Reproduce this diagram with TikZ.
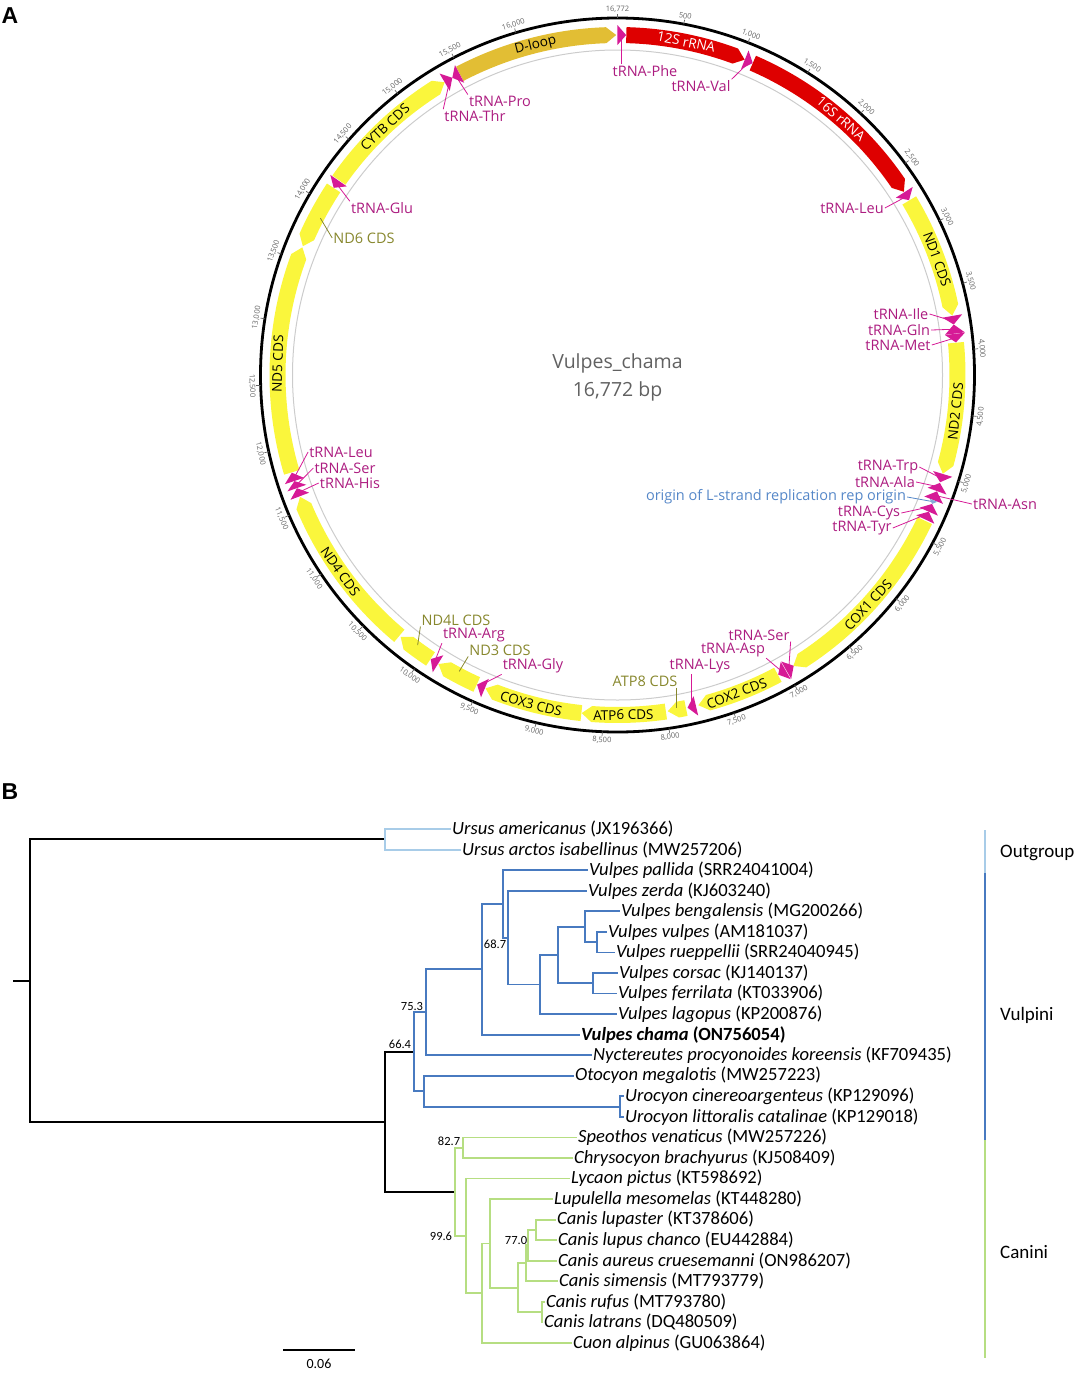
\documentclass[tikz,border=0pt]{standalone}
\usepackage{fontspec}
\setmainfont{Open Sans}
\newfontfamily\treefont{Carlito}
\newfontfamily\panelfont{Liberation Sans}

\definecolor{cdsyellow}{RGB}{250,246,60}
\definecolor{dloopgold}{RGB}{226,190,52}
\definecolor{rrnared}{RGB}{222,0,0}
\definecolor{trnamag}{RGB}{214,26,150}
\definecolor{trnatext}{RGB}{172,28,128}
\definecolor{cdsolive}{RGB}{135,135,45}
\definecolor{oriblue}{RGB}{85,135,200}
\definecolor{ticktext}{RGB}{100,100,100}
\definecolor{ogblue}{RGB}{168,204,232}
\definecolor{vulblue}{RGB}{72,122,192}
\definecolor{cangreen}{RGB}{182,222,130}

\pgfkeys{/pgf/number format/.cd,1000 sep={,},assume math mode=true}

% bp -> angle (0 bp at top, clockwise); shifted so no number tops 16383
\newcommand\mang[1]{(-81.7144-0.0214643*(\the\numexpr#1-8000\relax))}
% rotation of text along the circle
\newcommand\tanrot[1]{\pgfmathsetmacro\lr{(#1)<-180 ? (#1)+270 : ((#1)<0 ? (#1)+90 : (#1)-90)}}
% feature arrow: start, end, colour, direction
\newcommand\gene[4]{%
  \pgfmathsetmacro\ga{\mang{#1}}%
  \pgfmathsetmacro\gb{\mang{#2}}%
  \ifnum#4=1
    \pgfmathsetmacro\gh{\gb+1.7}%
    \fill[#3] (\ga:348) arc[start angle=\ga,end angle=\gh,radius=348pt]
      -- (\gb:340) -- (\gh:332) arc[start angle=\gh,end angle=\ga,radius=332pt] -- cycle;
  \else
    \pgfmathsetmacro\gh{\ga-1.7}%
    \fill[#3] (\gb:348) arc[start angle=\gb,end angle=\gh,radius=348pt]
      -- (\ga:340) -- (\gh:332) arc[start angle=\gh,end angle=\gb,radius=332pt] -- cycle;
  \fi}
% tRNA: start, end, direction
\newcommand\trna[3]{%
  \pgfmathsetmacro\ga{\mang{#1}}%
  \pgfmathsetmacro\gb{\mang{#2}}%
  \ifnum#3=1
    \fill[trnamag] (\ga:350) -- (\gb:340) -- (\ga:330) -- cycle;
  \else
    \fill[trnamag] (\gb:350) -- (\ga:340) -- (\gb:330) -- cycle;
  \fi}
% label inside the band: name, bp, text, colour
\newcommand\glabel[4]{%
  \pgfmathsetmacro\ga{\mang{#2}}\tanrot{\ga}%
  \node[glbl, text=#4, rotate=\lr] (#1) at (\ga:340) {#3};}

\begin{document}
\begin{tikzpicture}[x=1pt,y=1pt,
  panel/.style={font=\panelfont\bfseries\fontsize{23}{23}\selectfont, inner sep=0pt},
  glbl/.style={font=\fontsize{13.5}{14}\selectfont, inner sep=0pt},
  ticklbl/.style={font=\fontsize{7.5}{8}\selectfont, text=ticktext, inner sep=0pt},
  tickmark/.style={ticktext, line width=0.7pt},
  tlbl/.style={font=\fontsize{14.5}{15}\selectfont, text=trnatext, inner sep=1pt},
  clbl/.style={tlbl, text=cdsolive},
  lead/.style={trnamag, line width=0.8pt},
  clead/.style={cdsolive, line width=0.8pt},
  leaf/.style={font=\treefont\fontsize{18.6}{18.6}\selectfont, anchor=west, inner sep=1pt},
  supp/.style={font=\treefont\fontsize{12.5}{12.5}\selectfont, inner sep=0pt},
  clade/.style={font=\treefont\fontsize{19}{19}\selectfont, anchor=west, inner sep=0pt},
  br/.style={line width=1.8pt}]
\useasboundingbox (0,0) rectangle (1078,-1373);

\node[panel] (pa) at (10,-16) {A};
\node[panel] (pb) at (10,-792) {B};

%% A: circular map
\begin{scope}[shift={(617.5,-375)}]
\draw[gray!40, line width=1pt] (0,0) circle[radius=325pt];
\draw[line width=2.8pt] (0,0) circle[radius=357pt];

\foreach \k in {1,...,32}{%
  \pgfmathtruncatemacro\t{500*\k}%
  \pgfmathsetmacro\ta{\mang{\t}}\tanrot{\ta}%
  \draw[tickmark] (\ta:357) -- (\ta:361.5);
  \node[ticklbl, rotate=\lr] (k\k) at (\ta:365.5) {\pgfmathprintnumber{\t}};
}
\draw[tickmark] (90:357) -- (90:361.5);
\node[ticklbl] (k0) at (90:365.5) {16,772};

% features
\gene{15482}{16760}{dloopgold}{1}
\gene{71}{1025}{rrnared}{1}
\gene{1094}{2675}{rrnared}{1}
\gene{2755}{3725}{cdsyellow}{1}
\gene{3940}{4980}{cdsyellow}{1}
\gene{5375}{6935}{cdsyellow}{1}
\gene{7075}{7745}{cdsyellow}{1}
\gene{7845}{7990}{cdsyellow}{1}
\gene{8005}{8668}{cdsyellow}{1}
\gene{8670}{9450}{cdsyellow}{1}
\gene{9525}{9866}{cdsyellow}{1}
\gene{9940}{10232}{cdsyellow}{1}
\gene{10245}{11600}{cdsyellow}{1}
\gene{11803}{13605}{cdsyellow}{1}
\gene{13615}{14133}{cdsyellow}{-1}
\gene{14207}{15346}{cdsyellow}{1}

\trna{1}{70}{1}
\trna{1026}{1093}{1}
\trna{2680}{2752}{1}
\trna{3728}{3796}{1}
\trna{3796}{3868}{-1}
\trna{3870}{3938}{1}
\trna{4982}{5050}{1}
\trna{5056}{5124}{-1}
\trna{5126}{5200}{-1}
\fill[oriblue!70] ({\mang{5201}}:344) -- ({\mang{5232}}:340) -- ({\mang{5201}}:336) -- cycle;
\trna{5232}{5298}{-1}
\trna{5298}{5365}{-1}
\trna{6932}{7000}{-1}
\trna{7005}{7072}{1}
\trna{7765}{7832}{1}
\trna{9455}{9522}{1}
\trna{9870}{9938}{1}
\trna{11605}{11672}{1}
\trna{11673}{11731}{1}
\trna{11732}{11800}{1}
\trna{14134}{14202}{-1}
\trna{15347}{15416}{1}
\trna{15416}{15481}{-1}

% names inside the band
\glabel{gdl}{16120}{D-loop}{black}
\glabel{g12}{545}{12S rRNA}{white}
\glabel{g16}{1915}{16S rRNA}{white}
\glabel{gnd1}{3266}{ND1 CDS}{black}
\glabel{gnd2}{4480}{ND2 CDS}{black}
\glabel{gco1}{6173}{COX1 CDS}{black}
\glabel{gco2}{7430}{COX2 CDS}{black}
\glabel{gat6}{8340}{ATP6 CDS}{black}
\glabel{gco3}{9071}{COX3 CDS}{black}
\glabel{gnd4}{10930}{ND4 CDS}{black}
\glabel{gnd5}{12667}{ND5 CDS}{black}
\glabel{gcyb}{14760}{CYTB CDS}{black}

% points for the leader lines
\coordinate (fphe) at ({\mang{35}}:338);
\coordinate (fval) at ({\mang{1060}}:338);
\coordinate (fleu) at ({\mang{2716}}:338);
\coordinate (file) at ({\mang{3762}}:338);
\coordinate (fgln) at ({\mang{3832}}:338);
\coordinate (fmet) at ({\mang{3904}}:338);
\coordinate (ftrp) at ({\mang{5016}}:338);
\coordinate (fala) at ({\mang{5090}}:338);
\coordinate (fasn) at ({\mang{5163}}:338);
\coordinate (fori) at ({\mang{5216}}:338);
\coordinate (fcys) at ({\mang{5265}}:338);
\coordinate (ftyr) at ({\mang{5331}}:338);
\coordinate (fser) at ({\mang{6966}}:338);
\coordinate (fasp) at ({\mang{7038}}:338);
\coordinate (flys) at ({\mang{7798}}:338);
\coordinate (fatp) at ({\mang{7917}}:338);
\coordinate (fgly) at ({\mang{9488}}:338);
\coordinate (fnd3) at ({\mang{9695}}:336);
\coordinate (farg) at ({\mang{9904}}:338);
\coordinate (fn4l) at ({\mang{10086}}:336);
\coordinate (fhis) at ({\mang{11638}}:338);
\coordinate (fsrb) at ({\mang{11702}}:338);
\coordinate (flub) at ({\mang{11766}}:338);
\coordinate (fnd6) at ({\mang{13874}}:336);
\coordinate (fglu) at ({\mang{14168}}:338);
\coordinate (fthr) at ({\mang{15381}}:338);
\coordinate (fpro) at ({\mang{15448}}:338);

\node[font=\fontsize{19.5}{20}\selectfont, text=black!62] (nm) at (0,12) {Vulpes\_chama};
\node[font=\fontsize{19.5}{20}\selectfont, text=black!62] (bp) at (0,-16) {16,772 bp};
\end{scope}

% feature labels
\node[tlbl] (lphe) at (645,-71) {tRNA-Phe};
\node[tlbl] (lval) at (701,-86) {tRNA-Val};
\node[tlbl] (lpro) at (500,-101) {tRNA-Pro};
\node[tlbl] (lthr) at (475,-116) {tRNA-Thr};
\node[tlbl] (lglu) at (382,-208) {tRNA-Glu};
\node[clbl] (lnd6) at (364,-238) {ND6 CDS};
\node[tlbl] (lleu) at (852,-208) {tRNA-Leu};
\node[tlbl] (lile) at (901,-314) {tRNA-Ile};
\node[tlbl] (lgln) at (899,-330) {tRNA-Gln};
\node[tlbl] (lmet) at (898,-345) {tRNA-Met};
\node[tlbl] (ltrp) at (888,-467) {tRNA-Trp};
\node[tlbl] (lala) at (885,-482) {tRNA-Ala};
\node[tlbl, text=oriblue] (lori) at (776,-497) {origin of L-strand replication rep origin};
\node[tlbl] (lasn) at (1005,-504) {tRNA-Asn};
\node[tlbl] (lcys) at (869,-513) {tRNA-Cys};
\node[tlbl] (ltyr) at (862,-528) {tRNA-Tyr};
\node[tlbl] (lser) at (759,-635) {tRNA-Ser};
\node[tlbl] (lasp) at (733,-650) {tRNA-Asp};
\node[tlbl] (llys) at (700,-666) {tRNA-Lys};
\node[clbl] (latp) at (645,-681) {ATP8 CDS};
\node[clbl] (ln4l) at (456,-620) {ND4L CDS};
\node[tlbl] (larg) at (474,-635) {tRNA-Arg};
\node[clbl] (lnd3) at (500,-650) {ND3 CDS};
\node[tlbl] (lgly) at (533,-666) {tRNA-Gly};
\node[tlbl] (llub) at (341,-452) {tRNA-Leu};
\node[tlbl] (lsrb) at (345,-468) {tRNA-Ser};
\node[tlbl] (lhis) at (350,-483) {tRNA-His};

\draw[lead] (lphe.north -| fphe) -- (fphe);
\draw[lead] (lval.north east) -- (fval);
\draw[lead] (lpro.north west) -- (fpro);
\draw[lead] (lthr.north west) -- (fthr);
\draw[lead] (lglu.north west) -- (fglu);
\draw[clead] (lnd6.west) -- (fnd6);
\draw[lead] (lleu.east) -- (fleu);
\draw[lead] (lile.east) -- (file);
\draw[lead] (lgln.east) -- (fgln);
\draw[lead] (lmet.east) -- (fmet);
\draw[lead] (ltrp.east) -- (ftrp);
\draw[lead] (lala.east) -- (fala);
\draw[oriblue, line width=0.8pt] (lori.east) -- (fori);
\draw[lead] (lasn.west) -- (fasn);
\draw[lead] (lcys.east) -- (fcys);
\draw[lead] (ltyr.east) -- (ftyr);
\draw[lead] (lser.south east) -- (fser);
\draw[lead] (lasp.south east) -- (fasp);
\draw[lead] (flys |- llys.south) -- (flys);
\draw[clead] (fatp |- latp.south) -- (fatp);
\draw[clead] (ln4l.south west) -- (fn4l);
\draw[lead] (larg.south west) -- (farg);
\draw[clead] (lnd3.south west) -- (fnd3);
\draw[lead] (lgly.south west) -- (fgly);
\draw[lead] (llub.west) -- (flub);
\draw[lead] (lsrb.west) -- (fsrb);
\draw[lead] (lhis.west) -- (fhis);

%% B: tree
\coordinate (rstub) at (13,-980.6);
\coordinate (r0) at (30,-980.6);
\coordinate (og) at (385,-839.3);
\coordinate (can) at (385,-1121.8);
\coordinate (v66) at (414.3,-1051.8);
\coordinate (v75) at (425.7,-1012.3);
\coordinate (v68) at (481.7,-969.3);
\coordinate (vA) at (503.3,-903.9);
\coordinate (vB) at (508.3,-937.6);
\coordinate (vC) at (540,-984.5);
\coordinate (vD) at (557.7,-955);
\coordinate (vE) at (585,-926.7);
\coordinate (vG) at (596.7,-942.1);
\coordinate (vF) at (592.7,-983.2);
\coordinate (otu) at (424.3,-1091.2);
\coordinate (vU) at (620,-1106.6);
\coordinate (cn) at (455,-1191.8);
\coordinate (c82) at (462.7,-1147.7);
\coordinate (cL) at (466,-1235.9);
\coordinate (cM) at (482.3,-1293.2);
\coordinate (cN) at (490,-1243.4);
\coordinate (cO) at (517.7,-1287.8);
\coordinate (cP) at (525.7,-1263.3);
\coordinate (cQ) at (528.3,-1245.3);
\coordinate (cR) at (535.7,-1229.9);
\coordinate (cS) at (541.7,-1312.2);

\node[leaf] (t0) at (451,-829.0) {\textit{Ursus americanus} (JX196366)};
\node[leaf] (t1) at (461,-849.6) {\textit{Ursus arctos isabellinus} (MW257206)};
\node[leaf] (t2) at (588,-870.1) {\textit{Vulpes pallida} (SRR24041004)};
\node[leaf] (t3) at (587,-890.7) {\textit{Vulpes zerda} (KJ603240)};
\node[leaf] (t4) at (620,-911.2) {\textit{Vulpes bengalensis} (MG200266)};
\node[leaf] (t5) at (607,-931.8) {\textit{Vulpes vulpes} (AM181037)};
\node[leaf] (t6) at (615,-952.4) {\textit{Vulpes rueppellii} (SRR24040945)};
\node[leaf] (t7) at (618,-972.9) {\textit{Vulpes corsac} (KJ140137)};
\node[leaf] (t8) at (617,-993.5) {\textit{Vulpes ferrilata} (KT033906)};
\node[leaf] (t9) at (617,-1014.0) {\textit{Vulpes lagopus} (KP200876)};
\node[leaf] (t10) at (580,-1034.6) {\textbf{\textit{Vulpes chama} (ON756054)}};
\node[leaf] (t11) at (592,-1055.2) {\textit{Nyctereutes procyonoides koreensis} (KF709435)};
\node[leaf] (t12) at (574,-1075.7) {\textit{Otocyon megalotis} (MW257223)};
\node[leaf] (t13) at (624,-1096.3) {\textit{Urocyon cinereoargenteus} (KP129096)};
\node[leaf] (t14) at (624,-1116.8) {\textit{Urocyon littoralis catalinae} (KP129018)};
\node[leaf] (t15) at (577,-1137.4) {\textit{Speothos venaticus} (MW257226)};
\node[leaf] (t16) at (573,-1157.9) {\textit{Chrysocyon brachyurus} (KJ508409)};
\node[leaf] (t17) at (570,-1178.5) {\textit{Lycaon pictus} (KT598692)};
\node[leaf] (t18) at (553,-1199.1) {\textit{Lupulella mesomelas} (KT448280)};
\node[leaf] (t19) at (556,-1219.6) {\textit{Canis lupaster} (KT378606)};
\node[leaf] (t20) at (557,-1240.2) {\textit{Canis lupus chanco} (EU442884)};
\node[leaf] (t21) at (557,-1260.7) {\textit{Canis aureus cruesemanni} (ON986207)};
\node[leaf] (t22) at (558,-1281.3) {\textit{Canis simensis} (MT793779)};
\node[leaf] (t23) at (545,-1301.9) {\textit{Canis rufus} (MT793780)};
\node[leaf] (t24) at (543,-1322.4) {\textit{Canis latrans} (DQ480509)};
\node[leaf] (t25) at (572,-1343.0) {\textit{Cuon alpinus} (GU063864)};

\draw[br] (rstub) -- (r0);
\draw[br] (r0) |- (og) (r0) |- (can) (can) |- (v66) (can) |- (cn);
\draw[br, ogblue] (og) |- (t0.west) (og) |- (t1.west);
\draw[br, vulblue] (v66) |- (v75) (v66) |- (otu)
  (v75) |- (v68) (v75) |- (t11.west)
  (v68) |- (vA) (v68) |- (t10.west)
  (vA) |- (t2.west) (vA) |- (vB)
  (vB) |- (t3.west) (vB) |- (vC)
  (vC) |- (vD) (vC) |- (t9.west)
  (vD) |- (vE) (vD) |- (vF)
  (vE) |- (t4.west) (vE) |- (vG)
  (vG) |- (t5.west) (vG) |- (t6.west)
  (vF) |- (t7.west) (vF) |- (t8.west)
  (otu) |- (t12.west) (otu) |- (vU)
  (vU) |- (t13.west) (vU) |- (t14.west);
\draw[br, cangreen] (cn) |- (c82) (cn) |- (cL)
  (c82) |- (t15.west) (c82) |- (t16.west)
  (cL) |- (t17.west) (cL) |- (cM)
  (cM) |- (cN) (cM) |- (t25.west)
  (cN) |- (t18.west) (cN) |- (cO)
  (cO) |- (cP) (cO) |- (cS)
  (cP) |- (cQ) (cP) |- (t22.west)
  (cQ) |- (cR) (cQ) |- (t21.west)
  (cR) |- (t19.west) (cR) |- (t20.west)
  (cS) |- (t23.west) (cS) |- (t24.west);

% support values
\node[supp] (s687) at (495,-944) {68.7};
\node[supp] (s753) at (412,-1006) {75.3};
\node[supp] (s664) at (400,-1044) {66.4};
\node[supp] (s827) at (449,-1141) {82.7};
\node[supp] (s996) at (441,-1236) {99.6};
\node[supp] (s770) at (516,-1240) {77.0};

% clade bars
\coordinate (cb0) at (985,-830);
\coordinate (cb1) at (985,-873);
\coordinate (cb2) at (985,-1140);
\coordinate (cb3) at (985,-1358);
\draw[ogblue, line width=2pt] (cb0) -- (cb1);
\draw[vulblue, line width=2pt] (cb1) -- (cb2);
\draw[cangreen, line width=2pt] (cb2) -- (cb3);
\node[clade] (kog) at (1000,-853) {Outgroup};
\node[clade] (kvu) at (1000,-1015) {Vulpini};
\node[clade] (kca) at (1000,-1252) {Canini};

% scale bar
\coordinate (sb0) at (283,-1350);
\coordinate (sb1) at (355,-1350);
\draw[line width=1.7pt] (sb0) -- (sb1);
\node[supp, font=\treefont\fontsize{14}{14}\selectfont] (sbl) at (319,-1364) {0.06};
\end{tikzpicture}
\end{document}
